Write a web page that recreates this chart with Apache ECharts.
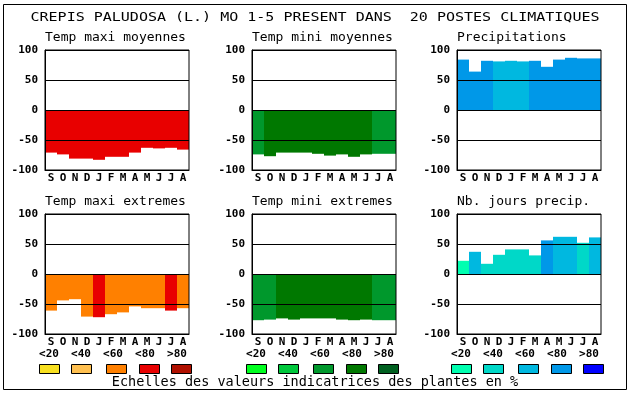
<!DOCTYPE html>
<html><head><meta charset="utf-8">
<script src="https://cdn.jsdelivr.net/npm/echarts@6/dist/echarts.min.js"></script>
<style>html,body{margin:0;padding:0;background:#fff}#c{width:630px;height:394px}</style>
</head><body><div id="c"></div>
<script>
// ---- data ----
const mainTitle = 'CREPIS PALUDOSA (L.) MO 1-5 PRESENT DANS  20 POSTES CLIMATIQUES';
const footerText = 'Echelles des valeurs indicatrices des plantes en %';
const months = ['S','O','N','D','J','F','M','A','M','J','J','A'];
const panelTitles = ['Temp maxi moyennes','Temp mini moyennes','Precipitations','Temp maxi extremes','Temp mini extremes','Nb. jours precip.'];
const scaleLabels = ['<20','<40','<60','<80','>80'];
const yMin = -100, yMax = 100, yStep = 50;

const tmaxMoy    = [-71,-74,-81,-81,-83,-78,-78,-71,-63,-64,-63,-66];
const tmaxMoyCls = [3,3,3,3,3,3,3,3,3,3,3,3];
const tminMoy    = [-74,-77,-71,-71,-71,-73,-76,-74,-78,-74,-73,-73];
const tminMoyCls = [2,3,3,3,3,3,3,3,3,3,2,2];
const precip     = [84,64,82,81,82,81,82,72,84,87,86,86];
const precipCls  = [3,3,3,2,2,2,3,3,3,3,3,3];
const tmaxExt    = [-61,-44,-42,-71,-72,-67,-64,-54,-57,-57,-61,-57];
const tmaxExtCls = [2,2,2,2,3,2,2,2,2,2,3,2];
const tminExt    = [-77,-76,-74,-76,-74,-74,-74,-76,-77,-76,-77,-77];
const tminExtCls = [2,2,3,3,3,3,3,3,3,3,2,2];
const nbJours    = [22,37,17,32,41,41,31,56,62,62,52,61];
const nbJoursCls = [0,2,1,1,1,1,1,3,2,2,1,2];

// ---- styles ----
const warm  = ['#f8e020','#ffc050','#ff8000','#e80000','#b01000'];
const green = ['#00ff20','#00c83c','#00982c','#007800','#006020'];
const blue  = ['#00ffb0','#00d8c8','#00b8e0','#0098e8','#0000ff'];
const MONO = 'DejaVu Sans Mono';
const gridLefts = [45, 252, 457];
const rowTops = [50, 214];
const gridW = 144, gridH = 120;

const panels = [
  {v: tmaxMoy, c: tmaxMoyCls, pal: warm},
  {v: tminMoy, c: tminMoyCls, pal: green},
  {v: precip,  c: precipCls,  pal: blue},
  {v: tmaxExt, c: tmaxExtCls, pal: warm},
  {v: tminExt, c: tminExtCls, pal: green},
  {v: nbJours, c: nbJoursCls, pal: blue}
];

const grids = [], xAxes = [], yAxes = [], series = [], graphics = [];
panels.forEach((p, i) => {
  const col = i % 3, row = Math.floor(i / 3);
  grids.push({left: gridLefts[col], top: rowTops[row], width: gridW, height: gridH,
    show: true, borderColor: '#000', borderWidth: 1, backgroundColor: 'transparent', z: 10});
  xAxes.push({type: 'category', gridIndex: i, data: months, boundaryGap: true, z: 10,
    axisLine: {show: true, onZero: false, lineStyle: {color: '#000', width: 1}},
    axisTick: {show: false}, splitLine: {show: false},
    axisLabel: {color: '#000', fontFamily: MONO, fontWeight: 'bold', fontSize: 11, margin: 3, interval: 0}});
  yAxes.push({type: 'value', gridIndex: i, min: yMin, max: yMax, interval: yStep, z: 10,
    axisLine: {show: true, lineStyle: {color: '#000', width: 1}},
    axisTick: {show: false},
    splitLine: {show: true, lineStyle: {color: '#000', width: 1, type: 'solid'}},
    axisLabel: {color: '#000', fontFamily: MONO, fontWeight: 'bold', fontSize: 11, margin: 7}});
  series.push({type: 'bar', xAxisIndex: i, yAxisIndex: i, barCategoryGap: '0%', barGap: '0%',
    silent: true, z: 2,
    data: p.v.map((v, j) => ({value: v, itemStyle: {color: p.pal[p.c[j]]}}))});
  graphics.push({type: 'text', left: gridLefts[col], top: rowTops[row] - 19,
    style: {text: panelTitles[i], fontFamily: MONO, fontSize: 13, fill: '#000'}});
});

// legend scales
const boxOff = [-6, 26, 61, 94, 126];
const labOff = [4, 36, 68, 100, 132];
[warm, green, blue].forEach((pal, g) => {
  const gl = gridLefts[g];
  pal.forEach((color, k) => {
    graphics.push({type: 'rect', shape: {x: gl + boxOff[k] + 0.5, y: 364.5, width: 20, height: 9},
      style: {fill: color, stroke: '#000', lineWidth: 1}});
    graphics.push({type: 'text', x: gl + labOff[k], y: 354.5,
      style: {text: scaleLabels[k], fontFamily: MONO, fontWeight: 'bold', fontSize: 11, fill: '#000',
        align: 'center', verticalAlign: 'middle'}});
  });
});

graphics.push({type: 'text', x: 315, y: 18, scaleX: 1.25, scaleY: 1,
  style: {text: mainTitle, fontFamily: MONO, fontSize: 12, fill: '#000', align: 'center', verticalAlign: 'middle'}});
graphics.push({type: 'text', x: 315, y: 382,
  style: {text: footerText, fontFamily: MONO, fontSize: 13.5, fill: '#000', align: 'center', verticalAlign: 'middle'}});
graphics.push({type: 'rect', shape: {x: 3.5, y: 4.5, width: 623, height: 385},
  style: {fill: 'none', stroke: '#000', lineWidth: 1}});

const chart = echarts.init(document.getElementById('c'), null, {renderer: 'canvas'});
chart.setOption({
  animation: false,
  backgroundColor: '#fff',
  grid: grids, xAxis: xAxes, yAxis: yAxes, series: series,
  graphic: graphics
});
</script></body></html>
